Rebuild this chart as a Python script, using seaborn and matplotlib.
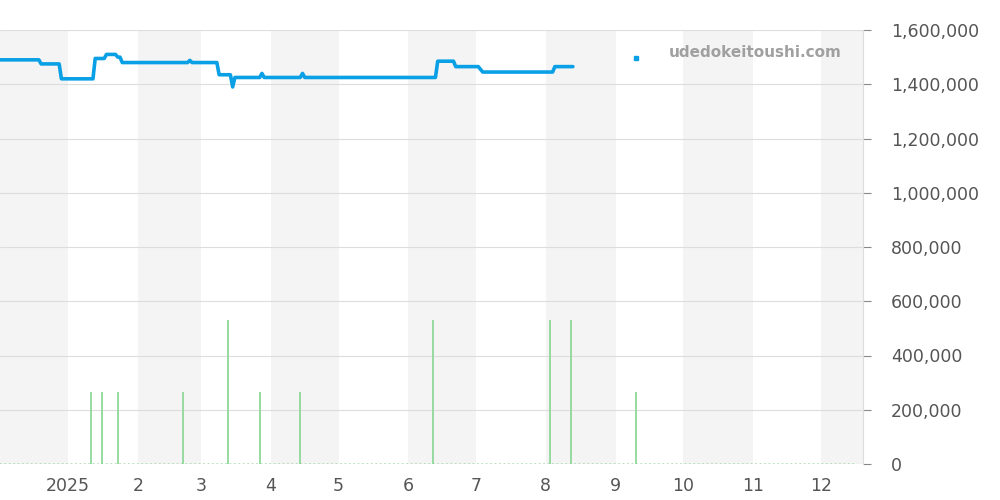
import pandas as pd
import seaborn as sns
import matplotlib
matplotlib.use('Agg')
from matplotlib import pyplot as plt
import matplotlib.dates as mdates
from matplotlib.ticker import FuncFormatter

# price line points
price_dates = ['2024-12-01', '2024-12-19', '2024-12-20', '2024-12-28', '2024-12-29',
               '2025-01-12', '2025-01-13', '2025-01-17', '2025-01-18', '2025-01-22',
               '2025-01-23', '2025-01-24', '2025-01-25', '2025-02-23', '2025-02-24',
               '2025-02-25', '2025-03-08', '2025-03-09', '2025-03-14', '2025-03-15',
               '2025-03-16', '2025-03-27', '2025-03-28', '2025-03-29', '2025-04-14',
               '2025-04-15', '2025-04-16', '2025-06-13', '2025-06-14', '2025-06-21',
               '2025-06-22', '2025-07-02', '2025-07-04', '2025-08-04', '2025-08-05',
               '2025-08-13']
price_values = [1490000, 1490000, 1475000, 1475000, 1420000,
                1420000, 1495000, 1495000, 1510000, 1510000,
                1500000, 1500000, 1480000, 1480000, 1488000,
                1480000, 1480000, 1435000, 1435000, 1390000,
                1425000, 1425000, 1440000, 1425000, 1425000,
                1440000, 1425000, 1425000, 1485000, 1485000,
                1465000, 1465000, 1445000, 1445000, 1465000,
                1465000]

# isolated price point
lone_dates = ['2025-09-10']
lone_values = [1495000]

# listing volume spikes
vol_dates = ['2025-01-11', '2025-01-16', '2025-01-23', '2025-02-21', '2025-03-13',
             '2025-03-27', '2025-04-14', '2025-06-12', '2025-08-03', '2025-08-12',
             '2025-09-10']
vol_values = [265000, 265000, 265000, 265000, 530000,
              265000, 265000, 530000, 530000, 530000,
              265000]

x_start, x_end = '2024-12-01 18:00', '2025-12-19 18:00'

df_price = pd.DataFrame({'date': pd.to_datetime(price_dates), 'price': price_values})
df_lone = pd.DataFrame({'date': pd.to_datetime(lone_dates), 'price': lone_values})
df_vol = pd.DataFrame({'date': pd.to_datetime(vol_dates), 'volume': vol_values})

sns.set_style('white')
plt.rcParams['font.family'] = ['DejaVu Sans']

fig = plt.figure(figsize=(10, 5), dpi=100)
ax = fig.add_axes([0.0, 0.072, 0.863, 0.868])

# alternating month bands
months = pd.date_range('2024-12-01', '2026-01-01', freq='MS')
for i in range(0, len(months) - 1, 2):
    ax.axvspan(months[i], months[i + 1], color='#f4f4f4', lw=0, zorder=0)

ax.hlines(0, pd.Timestamp(x_start), pd.Timestamp('2025-12-17'), color='#a8dcb0',
          lw=1.2, linestyles=':', zorder=2)
ax.vlines(df_vol['date'], 0, df_vol['volume'], color='#8fd89a', lw=1.3, zorder=2)

sns.lineplot(data=df_price, x='date', y='price', ax=ax, color='#0aa0e6', lw=2.6, zorder=3)
ax.plot(df_lone['date'], df_lone['price'], marker='s', ms=2.5, color='#0aa0e6', lw=0, zorder=3)

ax.set_xlim(pd.Timestamp(x_start), pd.Timestamp(x_end))
ax.set_ylim(0, 1600000)
ax.set_yticks(range(0, 1600001, 200000))
ax.yaxis.set_major_formatter(FuncFormatter(lambda v, p: '{:,.0f}'.format(v)))
ax.yaxis.tick_right()
ax.grid(axis='y', color='#dddddd', lw=0.8, zorder=1)
ax.set_axisbelow(True)

ax.xaxis.set_major_locator(mdates.MonthLocator())
ax.xaxis.set_major_formatter(FuncFormatter(
    lambda v, p: (lambda d: str(d.year) if d.month == 1 else str(d.month))(mdates.num2date(v))))

ax.tick_params(axis='both', colors='#888888', labelcolor='#555555', labelsize=12.5,
               length=6, width=0.8)
ax.tick_params(axis='y', pad=14)
ax.set_xlabel('')
ax.set_ylabel('')

for s in ['top', 'left', 'bottom']:
    ax.spines[s].set_visible(False)
ax.spines['right'].set_color('#dddddd')

ax.text(0.975, 0.948, 'udedokeitoushi.com', transform=ax.transAxes, ha='right', va='center',
        fontsize=11, fontweight='bold', color='#a0a0a0')

plt.savefig('out.png')
